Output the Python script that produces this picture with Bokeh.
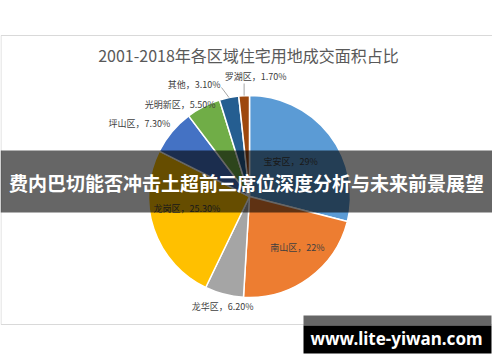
import math
from bokeh.plotting import figure
from bokeh.models import Range1d, ColumnDataSource
from bokeh.core.properties import value
from bokeh.embed import file_html
from bokeh.resources import INLINE

# ---- data ----
title = "2001-2018年各区域住宅用地成交面积占比"
districts = ["宝安区", "南山区", "龙华区", "龙岗区", "坪山区", "光明新区", "其他", "罗湖区"]
shares = [29.0, 22.0, 6.2, 25.3, 7.3, 5.5, 3.1, 1.7]
share_labels = ["29%", "22%", "6.20%", "25.30%", "7.30%", "5.50%", "3.10%", "1.70%"]
colors = ["#5B9BD5", "#ED7D31", "#A5A5A5", "#FFC000", "#4472C4", "#70AD47", "#255E91", "#9E480E"]
banner_text = "费内巴切能否冲击土超前三席位深度分析与未来前景展望"
watermark = "www.lite-yiwan.com"

# ---- layout (picture pixel space; data y = 362 - picture y) ----
def Y(py):
    return 362 - py

CX, CY_PAGE, R = 249, 196, 101
CY = Y(CY_PAGE)
label_r = [0.535, 0.69, 1.12, 0.63, 1.065, 0.97, 1.15, 1.19]
label_dtheta = [-2.7, -7.2, -0.8, 8.0, 2.8, 6.8, -2.8, 6.0]
label_align = ["center", "center", "center", "center", "right", "right", "right", "center"]

p = figure(width=492, height=354, x_range=Range1d(0, 492), y_range=Range1d(8, 362),
           output_backend="svg", toolbar_location=None, min_border=0,
           background_fill_color="white", border_fill_color="white")
p.outline_line_color = None
p.axis.visible = False
p.grid.visible = False

# chart frame
p.quad(left=[0.5], right=[498.5], top=[Y(35)], bottom=[Y(324)], fill_color=None,
       line_color="#D9D9D9", line_width=1)

# title
p.text(x=[248], y=[Y(54)], text=[title], text_font=value("Noto Sans CJK SC"),
       text_font_size="16px", text_color="#595959", text_align="center", text_baseline="middle")

# pie
total = sum(shares)
starts, ends, mids = [], [], []
cum = 0.0
for s in shares:
    t0 = cum / total * 2 * math.pi
    cum += s
    t1 = cum / total * 2 * math.pi
    starts.append(math.pi / 2 - t1)
    ends.append(math.pi / 2 - t0)
    mids.append((t0 + t1) / 2)

src = ColumnDataSource(dict(start=starts, end=ends, color=colors))
p.wedge(x=CX, y=CY, radius=R, start_angle="start", end_angle="end", fill_color="color",
        line_color="white", line_width=1.5, source=src)

# labels
for i in range(len(districts)):
    th = mids[i] + math.radians(label_dtheta[i])
    r = label_r[i] * R
    lx = CX + r * math.sin(th)
    ly = CY + r * math.cos(th)
    p.text(x=[lx], y=[ly], text=[districts[i] + "，" + share_labels[i]],
           text_font=value("Noto Sans CJK SC"), text_font_size="9px", text_color="#404040",
           text_align=label_align[i], text_baseline="middle")

# leader lines for the two small slices
for i, end in [(6, (221, 87)), (7, None)]:
    ex = CX + R * math.sin(mids[i])
    ey = CY + R * math.cos(mids[i])
    if end is None:
        end = (ex, Y(83))
    else:
        end = (end[0], Y(end[1]))
    p.line(x=[ex, end[0]], y=[ey, end[1]], line_color="#A6A6A6", line_width=1)

# banner overlay
p.quad(left=[0], right=[500], top=[Y(150)], bottom=[Y(212)], fill_color="black",
       fill_alpha=0.6, line_color=None)
p.text(x=[246], y=[Y(182)], text=[banner_text], text_font=value("Noto Sans CJK SC"),
       text_font_style="bold", text_font_size="19px", text_color="white",
       text_align="center", text_baseline="middle")

# watermark
p.quad(left=[303], right=[491], top=[Y(315)], bottom=[Y(325)], fill_color="#666666", line_color=None)
p.quad(left=[303], right=[491], top=[Y(325)], bottom=[Y(353)], fill_color="black", line_color=None)
p.text(x=[396], y=[Y(338)], text=[watermark], text_font=value("Noto Sans"),
       text_font_style="bold", text_font_size="17px", text_color="white",
       text_align="center", text_baseline="middle")

open("out.html", "w").write(file_html(p, INLINE))
